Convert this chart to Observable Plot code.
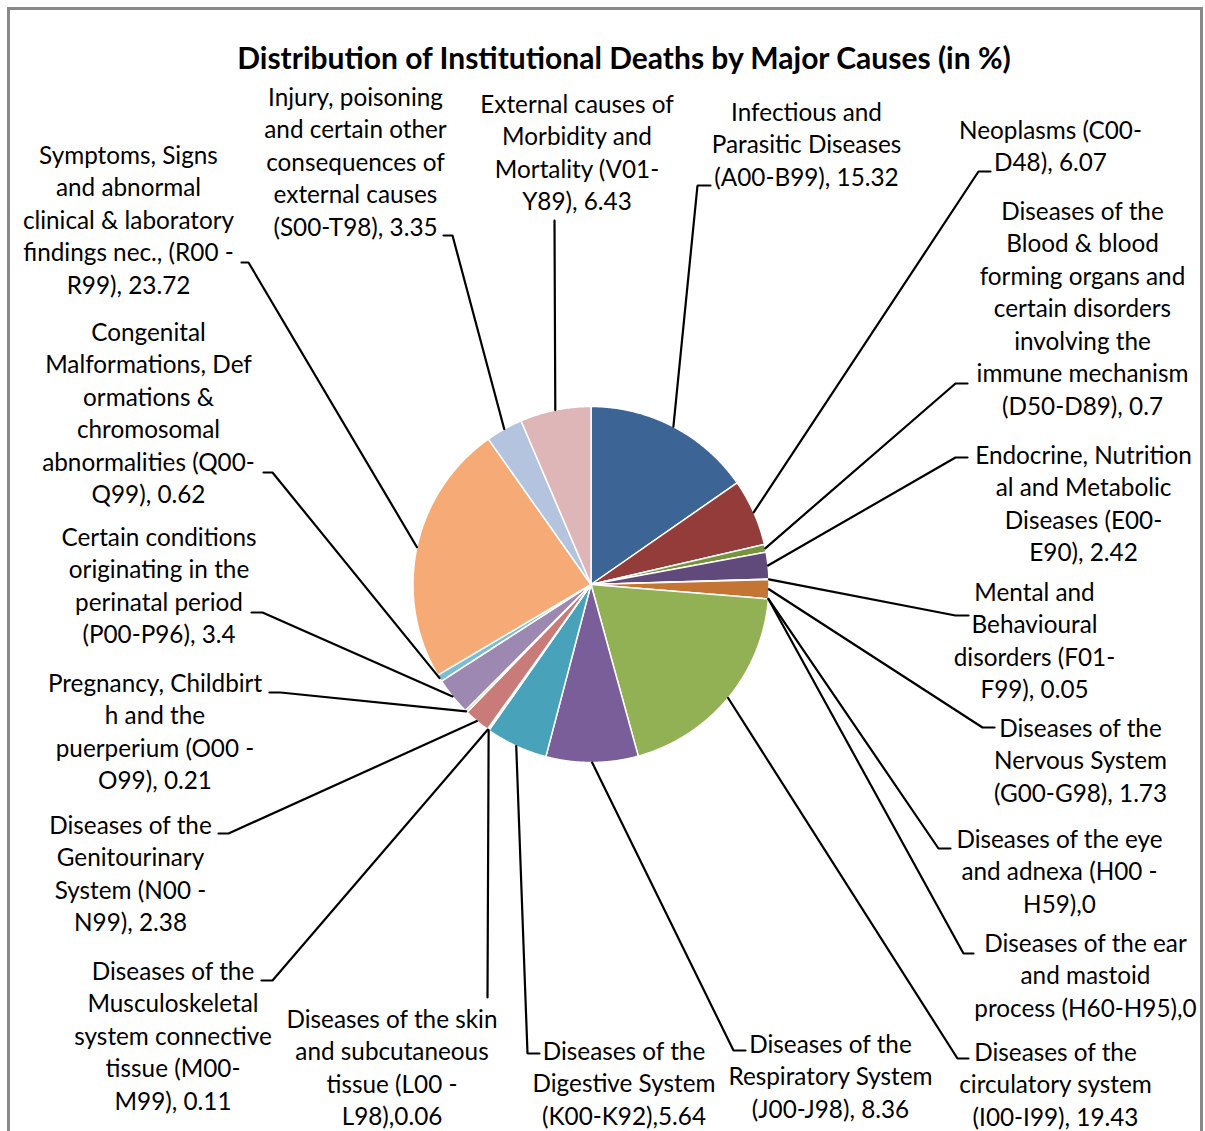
<!DOCTYPE html>
<html><head><meta charset="utf-8">
<script src="https://cdn.jsdelivr.net/npm/d3@7"></script>
<script src="https://cdn.jsdelivr.net/npm/@observablehq/plot@0.6"></script>
<style>
body{margin:0;background:#fff;width:1205px;height:1131px;overflow:hidden;position:relative;}
#frame{position:absolute;left:7px;top:7px;width:1196px;height:1140px;border:3px solid #898989;box-sizing:border-box;}
#title{position:absolute;left:0;top:40px;width:1248px;text-align:center;font-family:Lato,sans-serif;font-weight:bold;font-size:30px;line-height:34px;color:#000;}
#chart{position:absolute;left:0;top:80px;}
</style></head>
<body>
<div id="frame"></div>
<div id="title">Distribution of Institutional Deaths by Major Causes (in %)</div>
<div id="chart"></div>
<script>
// ---- data ----
const causes = [
  "Infectious and Parasitic Diseases","Neoplasms","Blood & immune","Endocrine","Mental","Nervous",
  "Eye","Ear","Circulatory","Respiratory","Digestive","Skin","Musculoskeletal","Genitourinary",
  "Pregnancy","Perinatal","Congenital","Symptoms","Injury","External causes"
];
const shares = [15.32, 6.07, 0.7, 2.42, 0.05, 1.73, 0, 0, 19.43, 8.36, 5.64, 0.06, 0.11, 2.38, 0.21, 3.4, 0.62, 23.72, 3.35, 6.43];
const colors = ["#3C6494","#943C3A","#77933C","#604A7B","#31859C","#C47534","#4F81BD","#C0504D","#92B054","#795E99",
  "#48A3BA","#F79646","#95B3D7","#C97B79","#B8D08A","#9D88B2","#7BBDD1","#F6AA76","#B4C4DE","#DEB6B7"];
const labelLines = [
  ["Infectious and","Parasitic Diseases","(A00-B99), 15.32"],
  ["Neoplasms (C00-","D48), 6.07"],
  ["Diseases of the","Blood & blood","forming organs and","certain disorders","involving the","immune mechanism","(D50-D89), 0.7"],
  ["Endocrine, Nutrition","al and Metabolic","Diseases (E00-","E90), 2.42"],
  ["Mental and","Behavioural","disorders (F01-","F99), 0.05"],
  ["Diseases of the","Nervous System","(G00-G98), 1.73"],
  ["Diseases of the eye","and adnexa (H00 -","H59),0"],
  ["Diseases of the ear","and mastoid","process (H60-H95),0"],
  ["Diseases of the","circulatory system","(I00-I99), 19.43"],
  ["Diseases of the","Respiratory System","(J00-J98), 8.36"],
  ["Diseases of the","Digestive System","(K00-K92),5.64"],
  ["Diseases of the skin","and subcutaneous","tissue (L00 -","L98),0.06"],
  ["Diseases of the","Musculoskeletal","system connective","tissue (M00-","M99), 0.11"],
  ["Diseases of the","Genitourinary","System (N00 -","N99), 2.38"],
  ["Pregnancy, Childbirt","h and the","puerperium (O00 -","O99), 0.21"],
  ["Certain conditions","originating in the","perinatal period","(P00-P96), 3.4"],
  ["Congenital","Malformations, Def","ormations &","chromosomal","abnormalities (Q00-","Q99), 0.62"],
  ["Symptoms, Signs","and abnormal","clinical & laboratory","findings nec., (R00 -","R99), 23.72"],
  ["Injury, poisoning","and certain other","consequences of","external causes","(S00-T98), 3.35"],
  ["External causes of","Morbidity and","Mortality (V01-","Y89), 6.43"]
];

// ---- layout (label placement, page px) ----
const labelX  = [806,1050,1082,1083,1034,1080,1059,1085,1055,830,623.5,391.5,172.5,130,154.5,158.5,148,128,355,576.5];
const labelY1 = [113,131,212,456,593,729,840,944,1053,1045,1052,1020,972,826,684,538,333,156,98,105];
const elbowX  = [697,978,955,955,955,982,938,963,957,733,527,487,272,228,280,262,272,248,452,554];
const elbowY  = [185,171,383,457,615,727,848,953,1058,1050,1053,997,980,833,692,612,472,262,235,220];
const tailX   = [710,990,967,967,968,994,950,973,968,745,539,487,261,218,269,251,263,241,443,554];

const W = 1205, H = 1131, TOP = 80;
const cx = 590.5, cy = 584, R = 178;
const FS = 24.3, LH = 32.5, DY = -3;

// slices as polygons
const total = d3.sum(shares);
let cum = 0;
const slicePts = [];
const mids = [];
shares.forEach((v, i) => {
  const a0 = cum / total * 2 * Math.PI;
  cum += v;
  const a1 = cum / total * 2 * Math.PI;
  mids.push((a0 + a1) / 2);
  if (v <= 0) return;
  slicePts.push({name: causes[i], color: colors[i], x: cx, y: cy});
  const n = Math.max(2, Math.ceil((a1 - a0) / 0.005));
  for (let k = 0; k <= n; k++) {
    const a = a0 + (a1 - a0) * k / n;
    slicePts.push({name: causes[i], color: colors[i], x: cx + R * Math.sin(a), y: cy - R * Math.cos(a)});
  }
});

// leader lines
const leaders = [];
causes.forEach((c, i) => {
  const a = mids[i];
  leaders.push({name: c, x: cx + R * Math.sin(a), y: cy - R * Math.cos(a)});
  leaders.push({name: c, x: elbowX[i], y: elbowY[i]});
  leaders.push({name: c, x: tailX[i], y: elbowY[i]});
});

const labels = causes.map((c, i) => ({
  name: c,
  text: labelLines[i].join("\n"),
  x: labelX[i],
  y: labelY1[i] + DY + (labelLines[i].length - 1) * LH / 2
}));

const chart = Plot.plot({
  width: W, height: H - TOP,
  margin: 0,
  x: {domain: [0, W], range: [0, W], axis: null},
  y: {domain: [TOP, H], range: [0, H - TOP], axis: null},
  color: {type: "identity"},
  style: {background: "transparent"},
  marks: [
    Plot.line(slicePts, {x: "x", y: "y", z: "name", fill: "color", stroke: "#ffffff", strokeWidth: 1.5, curve: "linear-closed"}),
    Plot.line(leaders, {x: "x", y: "y", z: "name", stroke: "#000", strokeWidth: 2.2, strokeLinejoin: "miter"}),
    Plot.text(labels, {x: "x", y: "y", text: "text", fontSize: FS, lineHeight: LH / FS, lineAnchor: "middle",
      textAnchor: "middle", fontFamily: "Lato, sans-serif", fill: "#000"})
  ]
});
document.getElementById("chart").appendChild(chart);
</script>
</body></html>
